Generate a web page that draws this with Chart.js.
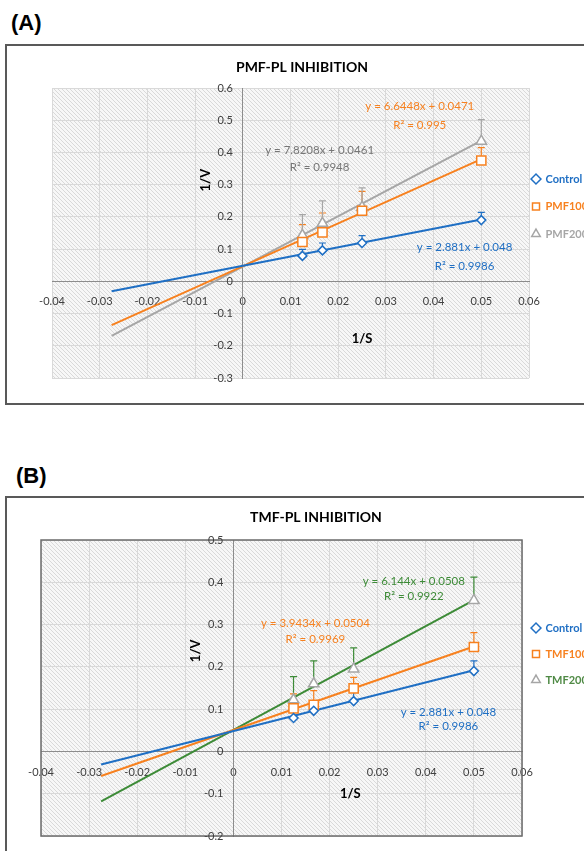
<!DOCTYPE html>
<html>
<head>
<meta charset="utf-8">
<script src="https://cdn.jsdelivr.net/npm/chart.js@4.4.0/dist/chart.umd.min.js"></script>
<style>
  body { margin: 0; width: 584px; height: 851px; overflow: hidden; background: #fff; position: relative; }
  .tag { position: absolute; font: bold 22px "Liberation Sans", Arial, sans-serif; line-height: 22px; color: #000; }
  .box { position: absolute; border: 2px solid #595959; background: #fff; }
  canvas { display: block; }
</style>
</head>
<body>
<div class="tag" style="left:11px;top:12px">(A)</div>
<div class="box" style="left:5px;top:44px;width:600px;height:357px"><canvas id="chartA" width="600" height="357"></canvas></div>
<div class="tag" style="left:16px;top:465px">(B)</div>
<div class="box" style="left:5px;top:496px;width:600px;height:380px"><canvas id="chartB" width="600" height="380"></canvas></div>
<script>
// 1/S values (same for every series)
const sInv = [0.0125, 0.0167, 0.025, 0.05];
// trendline ends (x)
const trendX = [-0.0275, 0.05];

// (A) PMF
const controlV = [0.079, 0.096, 0.119, 0.190];
const controlErr = [0.02, 0.023, 0.023, 0.024];
const pmf100V = [0.122, 0.152, 0.219, 0.375];
const pmf100Err = [0.054, 0.06, 0.06, 0.04];
const pmf200V = [0.143, 0.18, 0.23, 0.435];
const pmf200Err = [0.064, 0.07, 0.06, 0.067];
const controlTrend = [-0.031, 0.192];
const pmf100Trend = [-0.136, 0.379];
const pmf200Trend = [-0.169, 0.437];
const eqA = ["y = 2.881x + 0.048", "y = 6.6448x + 0.0471", "y = 7.8208x + 0.0461"];
const r2A = ["R² = 0.9986", "R² = 0.995", "R² = 0.9948"];

// (B) TMF
const tmf100V = [0.102, 0.110, 0.149, 0.247];
const tmf100Err = [0.034, 0.034, 0.026, 0.034];
const tmf200V = [0.122, 0.16, 0.195, 0.357];
const tmf200Err = [0.055, 0.054, 0.05, 0.055];
const tmf100Trend = [-0.058, 0.248];
const tmf200Trend = [-0.118, 0.358];
const eqB = ["y = 2.881x + 0.048", "y = 3.9434x + 0.0504", "y = 6.144x + 0.0508"];
const r2B = ["R² = 0.9986", "R² = 0.9969", "R² = 0.9922"];

const xTicks = { min: -0.04, max: 0.06, step: 0.01 };

// label spots in data units [x, yEq, yR2]
const eqSpotA = [[0.0465, 0.1065, 0.0475], [0.0371, 0.5435, 0.4845], [0.0161, 0.4068, 0.353]];
const eqSpotB = [[0.0447, 0.0922, 0.0584], [0.01705, 0.3035, 0.2657], [0.0375, 0.402, 0.366]];

const BLUE = "#1f6fc4", ORANGE = "#f7811f", GRAY = "#a6a6a6", GREEN = "#3d8b37";
const FONT = "Lato, 'Open Sans', sans-serif";

function pts(v) {
  return sInv.map((x, i) => ({ x: x, y: v[i] }));
}

function pointSet(label, v, err, color, style, radius, errColor, textColor) {
  return {
    label: label,
    data: pts(v),
    errors: err,
    errColor: errColor || color,
    legendColor: textColor || color,
    pointStyle: style,
    pointRadius: radius,
    pointBorderWidth: 1.5,
    pointBorderColor: color,
    pointBackgroundColor: "#fff",
    borderColor: color,
    backgroundColor: "#fff",
    showLine: false
  };
}

function trendSet(t, color) {
  return {
    label: "trend",
    data: trendX.map((x, i) => ({ x: x, y: t[i] })),
    showLine: true,
    borderColor: color,
    borderWidth: 2,
    pointRadius: 0
  };
}

const hatchBg = {
  id: "hatchBg",
  beforeDraw(chart, args, o) {
    const { ctx, chartArea: a } = chart;
    const c = document.createElement("canvas");
    c.width = c.height = 4;
    const g = c.getContext("2d");
    g.fillStyle = "#f7f7f7";
    g.fillRect(0, 0, 4, 4);
    g.strokeStyle = "#d9d9d9";
    g.lineWidth = 1;
    g.beginPath();
    g.moveTo(-1, -1);
    g.lineTo(5, 5);
    g.stroke();
    ctx.save();
    ctx.fillStyle = ctx.createPattern(c, "repeat");
    ctx.fillRect(a.left, a.top, a.right - a.left, a.bottom - a.top);
    ctx.restore();
  },
  beforeDatasetsDraw(chart, args, o) {
    const { ctx, chartArea: a, scales: { x, y } } = chart;
    ctx.save();
    if (o.frame) {
      ctx.strokeStyle = "#6b6b6b";
      ctx.lineWidth = 1.5;
      ctx.strokeRect(a.left, a.top, a.right - a.left, a.bottom - a.top);
    }
    // y tick labels sit left of the y axis, as in Excel
    const x0 = x.getPixelForValue(0);
    ctx.font = "11px " + FONT;
    ctx.fillStyle = "#404040";
    ctx.textAlign = "right";
    ctx.textBaseline = "middle";
    y.ticks.forEach(t => {
      ctx.fillText(String(+t.value.toFixed(1)), x0 - 10, y.getPixelForValue(t.value));
    });
    ctx.restore();
  }
};

const errorBars = {
  id: "errorBars",
  beforeDatasetsDraw(chart) {
    const { ctx, scales: { x, y } } = chart;
    ctx.save();
    ctx.lineWidth = 1.2;
    chart.data.datasets.forEach(ds => {
      if (!ds.errors) return;
      ctx.strokeStyle = ds.errColor;
      ds.data.forEach((p, i) => {
        const px = x.getPixelForValue(p.x);
        const py = y.getPixelForValue(p.y);
        const pt = y.getPixelForValue(p.y + ds.errors[i]);
        ctx.beginPath();
        ctx.moveTo(px, py);
        ctx.lineTo(px, pt);
        ctx.moveTo(px - 3.5, pt);
        ctx.lineTo(px + 3.5, pt);
        ctx.stroke();
      });
    });
    ctx.restore();
  }
};

const notes = {
  id: "notes",
  afterDatasetsDraw(chart, args, o) {
    const { ctx, scales: { x, y } } = chart;
    ctx.save();
    ctx.textAlign = "center";
    ctx.textBaseline = "middle";
    o.items.forEach(n => {
      ctx.font = n.font;
      ctx.fillStyle = n.color;
      ctx.save();
      ctx.translate(x.getPixelForValue(n.x), y.getPixelForValue(n.y));
      if (n.rot) ctx.rotate(n.rot);
      ctx.fillText(n.text, 0, 0);
      ctx.restore();
    });
    ctx.restore();
  }
};

// put the legend items where Excel has them
const legendSpot = {
  id: "legendSpot",
  afterLayout(chart, args, o) {
    const lg = chart.legend;
    const h = lg.height;
    lg.left = o.x - o.pad - o.box / 2;
    lg.top = o.y - o.pad - o.fs / 2;
    lg.right = lg.left + 120;
    lg.bottom = lg.top + h;
  }
};

function eqNotes(eq, r2, spot, colors) {
  const out = [];
  eq.forEach((t, i) => {
    out.push({ text: t, x: spot[i][0], y: spot[i][1], color: colors[i], font: "11.5px " + FONT });
    out.push({ text: r2[i], x: spot[i][0], y: spot[i][2], color: colors[i], font: "11.5px " + FONT });
  });
  return out;
}

function makeChart(id, o) {
  const tickFont = { family: FONT, size: 11 };
  return new Chart(document.getElementById(id), {
    type: "scatter",
    data: { datasets: o.datasets },
    options: {
      responsive: false,
      animation: false,
      layout: { padding: o.padding },
      scales: {
        x: {
          type: "linear",
          min: xTicks.min,
          max: xTicks.max,
          position: { y: 0 },
          ticks: { stepSize: xTicks.step, autoSkip: false, padding: 14, font: tickFont, color: "#404040",
            callback: v => String(+v.toFixed(2)) },
          grid: { color: "#d9d9d9", drawTicks: false },
          border: { color: "#8c8c8c", width: 1 }
        },
        y: {
          type: "linear",
          min: o.yMin,
          max: o.yMax,
          position: { x: 0 },
          ticks: { stepSize: 0.1, autoSkip: false, display: false },
          grid: { color: "#d9d9d9", drawTicks: false },
          border: { color: "#8c8c8c", width: 1 }
        }
      },
      plugins: {
        title: {
          display: true,
          text: o.title,
          color: "#000",
          font: { family: FONT, size: 14, weight: "bold" },
          padding: o.titlePad
        },
        legend: {
          position: "right",
          align: "start",
          maxWidth: o.legendWidth,
          labels: {
            usePointStyle: true,
            boxWidth: 8,
            boxHeight: 7,
            padding: o.legendGap,
            font: { family: FONT, size: 11, weight: "bold" },
            filter: item => item.text !== "trend",
            generateLabels(chart) {
              const items = Chart.defaults.plugins.legend.labels.generateLabels(chart);
              items.forEach(it => { it.fontColor = chart.data.datasets[it.datasetIndex].legendColor; });
              return items;
            }
          }
        },
        tooltip: { enabled: false },
        legendSpot: { x: 529, y: o.legendY, pad: o.legendGap, box: 8, fs: 11 },
        hatchBg: { frame: o.frame },
        notes: { items: o.notes }
      }
    },
    plugins: [hatchBg, errorBars, notes, legendSpot]
  });
}

makeChart("chartA", {
  title: "PMF-PL INHIBITION",
  yMin: -0.3, yMax: 0.6,
  padding: { left: 45, top: 0, right: 55, bottom: 25 },
  titlePad: { top: 12.6, bottom: 12.6 },
  legendWidth: 23,
  legendGap: 16.5,
  legendY: 133,
  frame: false,
  datasets: [
    pointSet("Control", controlV, controlErr, BLUE, "rectRot", 4.5),
    pointSet("PMF100", pmf100V, pmf100Err, ORANGE, "rect", 6.5),
    pointSet("PMF200", pmf200V, pmf200Err, GRAY, "triangle", 6),
    trendSet(controlTrend, BLUE),
    trendSet(pmf100Trend, ORANGE),
    trendSet(pmf200Trend, GRAY)
  ],
  notes: eqNotes(eqA, r2A, eqSpotA, [BLUE, ORANGE, "#767676"]).concat([
    { text: "1/V", x: -0.0077, y: 0.314, rot: -Math.PI / 2, color: "#000", font: "bold 13px " + FONT },
    { text: "1/S", x: 0.025, y: -0.177, color: "#000", font: "bold 13px " + FONT }
  ])
});

makeChart("chartB", {
  title: "TMF-PL INHIBITION",
  yMin: -0.2, yMax: 0.5,
  padding: { left: 34, top: 0, right: 16, bottom: 42 },
  titlePad: { top: 10.6, bottom: 14.6 },
  legendWidth: 69,
  legendGap: 15,
  legendY: 130,
  frame: true,
  datasets: [
    pointSet("Control", controlV, controlErr, BLUE, "rectRot", 4.5),
    pointSet("TMF100", tmf100V, tmf100Err, ORANGE, "rect", 6.5),
    pointSet("TMF200", tmf200V, tmf200Err, GRAY, "triangle", 6, GREEN, "#4f8a45"),
    trendSet(controlTrend, BLUE),
    trendSet(tmf100Trend, ORANGE),
    trendSet(tmf200Trend, GREEN)
  ],
  notes: eqNotes(eqB, r2B, eqSpotB, [BLUE, ORANGE, GREEN]).concat([
    { text: "1/V", x: -0.0078, y: 0.238, rot: -Math.PI / 2, color: "#000", font: "bold 13px " + FONT },
    { text: "1/S", x: 0.0243, y: -0.1, color: "#000", font: "bold 13px " + FONT }
  ])
});
</script>
</body>
</html>
